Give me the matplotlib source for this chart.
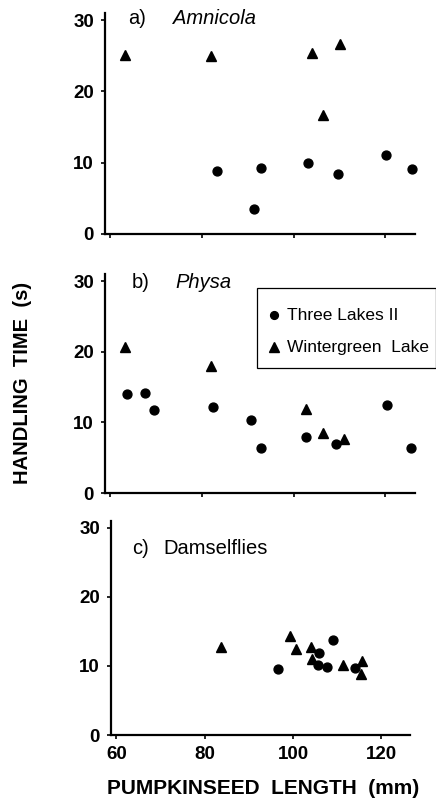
import matplotlib
matplotlib.use("Agg")
import matplotlib.pyplot as plt
from matplotlib.lines import Line2D
from matplotlib.patches import Rectangle

plt.rcParams['font.family'] = ['Liberation Sans', 'DejaVu Sans']

# ---- data ----
a_three_x = [83.2, 92.8, 91.3, 103.1, 109.7, 120.2, 125.8]
a_three_y = [8.9, 9.3, 3.5, 10.0, 8.4, 11.1, 9.1]
a_winter_x = [63.2, 81.9, 104.0, 110.2, 106.5]
a_winter_y = [25.1, 25.0, 25.4, 26.6, 16.7]

b_three_x = [63.5, 67.5, 69.6, 82.4, 90.7, 92.8, 102.7, 109.2, 120.4, 125.6]
b_three_y = [14.0, 14.2, 11.8, 12.2, 10.3, 6.4, 7.9, 6.9, 12.4, 6.3]
b_winter_x = [63.2, 81.9, 102.8, 106.4, 111.0]
b_winter_y = [20.6, 18.0, 11.9, 8.5, 7.7]

c_three_x = [96.7, 105.8, 105.6, 107.6, 109.0, 114.0]
c_three_y = [9.6, 11.9, 10.2, 9.8, 13.7, 9.7]
c_winter_x = [83.7, 99.4, 100.6, 104.1, 104.3, 111.3, 115.6, 115.4]
c_winter_y = [12.8, 14.4, 12.5, 12.8, 11.0, 10.1, 10.7, 8.8]

x_ticks = [60, 80, 100, 120]
y_ticks = [0, 10, 20, 30]
series_names = ['Three Lakes II', 'Wintergreen  Lake']
series_markers = ['o', '^']

W, H = 436, 805
fig = plt.figure(figsize=(W / 100, H / 100), dpi=100)

def make_ax(left, top, right, bottom):
    return fig.add_axes([left / W, 1 - bottom / H, (right - left) / W, (bottom - top) / H])

axes = [make_ax(105, 13, 415, 234), make_ax(105, 274, 415, 493), make_ax(111, 521, 410, 735)]
data = [(a_three_x, a_three_y, a_winter_x, a_winter_y),
        (b_three_x, b_three_y, b_winter_x, b_winter_y),
        (c_three_x, c_three_y, c_winter_x, c_winter_y)]

for i, (ax, (tx, ty, wx, wy)) in enumerate(zip(axes, data)):
    ax.plot(tx, ty, series_markers[0], color='black', ms=6.4, ls='none', clip_on=False)
    ax.plot(wx, wy, series_markers[1], color='black', ms=7.4, ls='none', clip_on=False)
    ax.set_xlim(58.8, 126.5)
    ax.set_ylim(0, 31)
    ax.set_xticks(x_ticks)
    ax.set_yticks(y_ticks)
    for s in ['top', 'right']:
        ax.spines[s].set_visible(False)
    for s in ['left', 'bottom']:
        ax.spines[s].set_linewidth(1.6)
    ax.tick_params(axis='both', direction='out', length=3, width=1.2, labelsize=13.5, pad=5)
    if i < 2:
        ax.tick_params(axis='x', labelbottom=False)
    for lab in ax.get_yticklabels() + ax.get_xticklabels():
        lab.set_fontweight('bold')
    ax.set_facecolor('none')

fs_title = 14.5
fig.text(128 / W, 1 - 18 / H, 'a)', fontsize=fs_title, va='center', ha='left')
fig.text(173 / W, 1 - 18 / H, 'Amnicola', fontsize=fs_title, va='center', ha='left', style='italic')
fig.text(132 / W, 1 - 282 / H, 'b)', fontsize=fs_title, va='center', ha='left')
fig.text(175 / W, 1 - 282 / H, 'Physa', fontsize=fs_title, va='center', ha='left', style='italic')
fig.text(132 / W, 1 - 548 / H, 'c)', fontsize=fs_title, va='center', ha='left')
fig.text(163 / W, 1 - 548 / H, 'Damselflies', fontsize=fs_title, va='center', ha='left')

# legend drawn in figure pixel coordinates
fig.patches.append(Rectangle((257 / W, 1 - 368 / H), (436 - 257) / W, 80 / H,
                             transform=fig.transFigure, fill=False, edgecolor='black',
                             linewidth=0.9, clip_on=False))
leg_rows_y = [315, 347]
leg_ms = [5.6, 6.6]
for name, mk, ms, yy in zip(series_names, series_markers, leg_ms, leg_rows_y):
    fig.lines.append(Line2D([274 / W], [1 - yy / H], marker=mk, color='black', ms=ms,
                            ls='none', transform=fig.transFigure))
    fig.text(287 / W, 1 - yy / H, name, fontsize=12.5, va='center', ha='left')

fig.text(23 / W, 1 - 383 / H, 'HANDLING  TIME  (s)', rotation=90, fontsize=14.5,
         fontweight='bold', va='center', ha='center')
fig.text(263 / W, 1 - 788 / H, 'PUMPKINSEED  LENGTH  (mm)', fontsize=15,
         fontweight='bold', va='center', ha='center')

fig.savefig('out.png', dpi=100)
